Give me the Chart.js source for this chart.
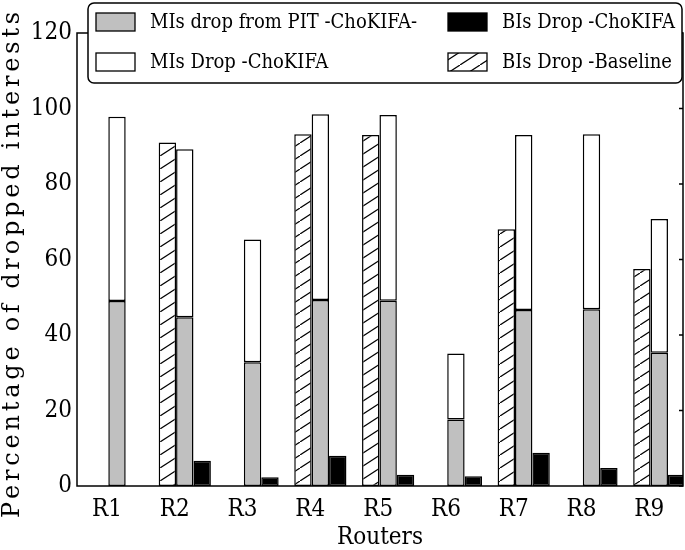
<!DOCTYPE html>
<html>
<head>
<meta charset="utf-8">
<script src="https://cdn.jsdelivr.net/npm/chart.js@4.4.1/dist/chart.umd.min.js"></script>
<style>
  html, body { margin: 0; padding: 0; background: #fff; }
  #wrap { width: 685px; height: 550px; }
</style>
</head>
<body>
<div id="wrap"><canvas id="chart" width="685" height="550"></canvas></div>
<script>
// Routers on the x axis
const routers = ["R1", "R2", "R3", "R4", "R5", "R6", "R7", "R8", "R9"];

// Values (percent); null = no bar
const biBaseline = [null, 91.0, null, 93.2, 93.0, null, 68.0, null, 57.5];
const miPit = [49.0, 44.7, 32.8, 49.3, 49.1, 17.6, 46.6, 46.8, 35.3];
const miChokifa = [48.8, 44.5, 32.5, 49.2, 49.2, 17.5, 46.4, 46.4, 35.4];
const biChokifa = [null, 6.7, 2.3, 8.0, 3.0, 2.6, 8.8, 4.8, 3.0];

const yTicks = [0, 20, 40, 60, 80, 100, 120];
const yTitle = "Percentage of dropped interests";

const FONT = "'DejaVu Serif', serif";

// hatch "/" pattern
function makeHatch() {
  const w = 20, h = 13;
  const c = document.createElement("canvas");
  c.width = w;
  c.height = h;
  const g = c.getContext("2d");
  g.fillStyle = "#fff";
  g.fillRect(0, 0, w, h);
  g.strokeStyle = "#000";
  g.lineWidth = 1.2;
  g.beginPath();
  g.moveTo(-w, 2 * h);
  g.lineTo(2 * w, -h);
  g.stroke();
  return document.getElementById("chart").getContext("2d").createPattern(c, "repeat");
}
const hatch = makeHatch();

function pts(arr) {
  return arr.map((v, i) => ({ x: i + 1, y: v }));
}

// frame around plot, inward ticks on the right, spaced y title
const framePlugin = {
  id: "frame",
  afterDraw(chart) {
    const { ctx, chartArea: a } = chart;
    const y = chart.scales.y;
    ctx.save();
    ctx.strokeStyle = "#000";
    ctx.lineWidth = 1.5;
    ctx.strokeRect(a.left, a.top, a.right - a.left, a.bottom - a.top);
    ctx.beginPath();
    yTicks.forEach((t) => {
      const py = y.getPixelForValue(t);
      ctx.moveTo(a.right, py);
      ctx.lineTo(a.right - 4, py);
    });
    ctx.stroke();

    // y axis title (letter spaced like the original)
    ctx.translate(13, 263);
    ctx.rotate(-Math.PI / 2);
    ctx.font = "24px " + FONT;
    ctx.letterSpacing = "3.8px";
    ctx.fillStyle = "#000";
    ctx.textAlign = "center";
    ctx.textBaseline = "middle";
    ctx.fillText(yTitle, 0, 0);
    ctx.restore();
  },
};

// legend in two columns, boxed, over the plot
const legendPlugin = {
  id: "boxLegend",
  afterDraw(chart) {
    const { ctx } = chart;
    const ds = chart.data.datasets;
    const order = [1, 3, 2, 0]; // gray, black, white, hatched
    const bx = 88, by = 3, bw = 594, bh = 80, r = 6;
    ctx.save();
    ctx.fillStyle = "#fff";
    ctx.strokeStyle = "#000";
    ctx.lineWidth = 1.5;
    ctx.beginPath();
    ctx.roundRect(bx, by, bw, bh, r);
    ctx.fill();
    ctx.stroke();

    ctx.font = "condensed 20px " + FONT;
    ctx.textBaseline = "middle";
    ctx.textAlign = "left";
    const cols = [96, 448];
    const rows = [22, 62];
    order.forEach((di, k) => {
      const cx = cols[k % 2];
      const cy = rows[Math.floor(k / 2)];
      ctx.fillStyle = ds[di].backgroundColor;
      ctx.fillRect(cx, cy - 9, 39, 18);
      ctx.lineWidth = 1.3;
      ctx.strokeStyle = "#000";
      ctx.strokeRect(cx, cy - 9, 39, 18);
      ctx.fillStyle = "#000";
      ctx.fillText(ds[di].label, cx + 54, cy + 1);
    });
    ctx.restore();
  },
};

const barCommon = {
  borderColor: "#000",
  borderWidth: 1.5,
  borderSkipped: false,
  categoryPercentage: 0.77,
  barPercentage: 1.0,
};

new Chart(document.getElementById("chart"), {
  type: "bar",
  data: {
    datasets: [
      Object.assign({ label: "BIs Drop -Baseline", data: pts(biBaseline), backgroundColor: hatch, stack: "base" }, barCommon),
      Object.assign({ label: "MIs drop from PIT -ChoKIFA-", data: pts(miPit), backgroundColor: "#c0c0c0", stack: "mi" }, barCommon),
      Object.assign({ label: "MIs Drop -ChoKIFA", data: pts(miChokifa), backgroundColor: "#ffffff", stack: "mi" }, barCommon),
      Object.assign({ label: "BIs Drop -ChoKIFA", data: pts(biChokifa), backgroundColor: "#000000", stack: "bi" }, barCommon),
    ],
  },
  options: {
    responsive: false,
    animation: false,
    layout: { padding: { top: 33, right: 2, left: 0, bottom: 0 } },
    plugins: {
      legend: { display: false },
      tooltip: { enabled: false },
    },
    scales: {
      x: {
        type: "linear",
        stacked: true,
        offset: false,
        min: 0.41,
        max: 9.35,
        grid: { display: false, drawTicks: false },
        border: { display: false },
        afterFit: (s) => { s.height = 64; },
        ticks: {
          includeBounds: false,
          stepSize: 1,
          autoSkip: false,
          maxRotation: 0,
          padding: 9,
          labelOffset: -10,
          color: "#000",
          font: { family: FONT, size: 24, weight: "condensed" },
          callback: (v) => routers[v - 1] || "",
        },
        title: {
          display: true,
          text: "Routers",
          color: "#000",
          padding: { top: 0, bottom: -2 },
          font: { family: FONT, size: 24, weight: "condensed" },
        },
      },
      y: {
        stacked: true,
        min: 0,
        max: 120,
        grid: { display: false, drawTicks: false },
        border: { display: false },
        afterFit: (s) => { s.width = 77; },
        ticks: {
          stepSize: 20,
          padding: 5,
          color: "#000",
          font: { family: FONT, size: 24, weight: "condensed" },
        },
      },
    },
  },
  plugins: [framePlugin, legendPlugin],
});
</script>
</body>
</html>
